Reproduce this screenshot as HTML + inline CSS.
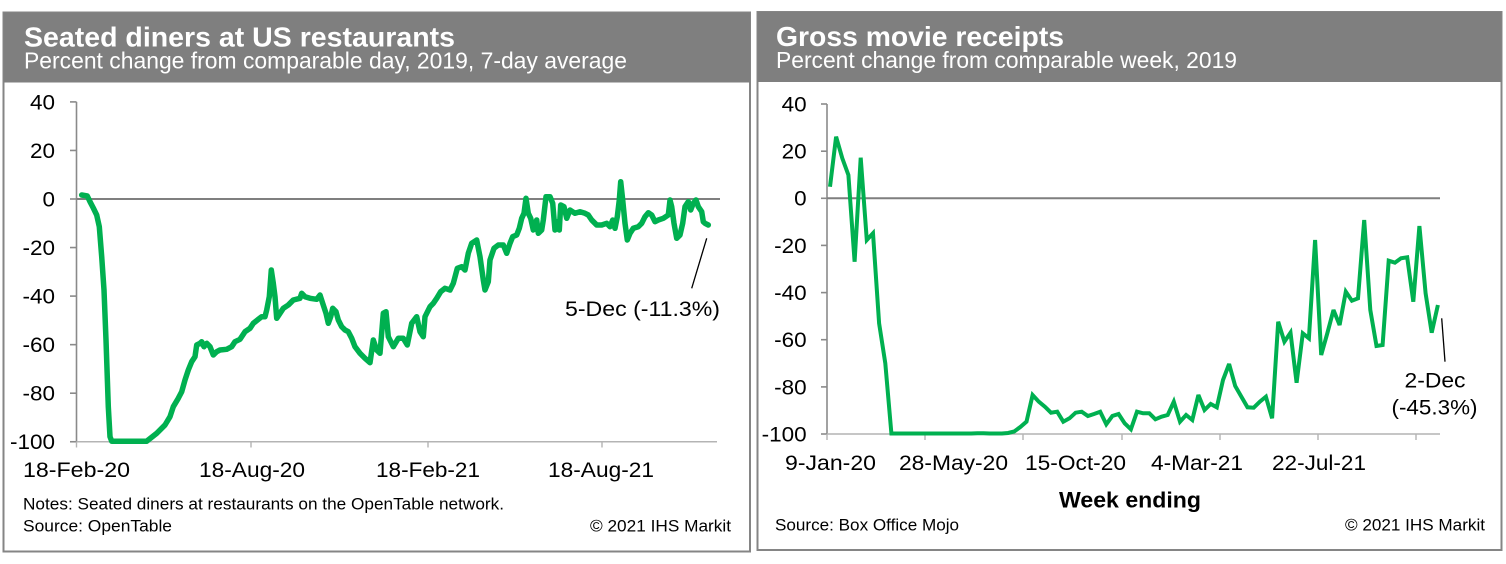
<!DOCTYPE html>
<html><head><meta charset="utf-8"><style>
html,body{margin:0;padding:0;background:#fff;}
svg{display:block;}
text{font-family:"Liberation Sans",Arial,sans-serif;}
</style></head><body>
<svg width="1506" height="564" viewBox="0 0 1506 564" xmlns="http://www.w3.org/2000/svg">
<rect x="0" y="0" width="1506" height="564" fill="#fff"/>
<!-- Left panel -->
<rect x="3.5" y="12.5" width="746.5" height="539" fill="#fff" stroke="#858585" stroke-width="2"/>
<rect x="3.5" y="12.5" width="746.5" height="70" fill="#7f7f7f"/>
<text x="24" y="46.7" font-size="27.5" font-weight="bold" fill="#fff" textLength="431" lengthAdjust="spacingAndGlyphs">Seated diners at US restaurants</text>
<text x="24" y="68.5" font-size="23" fill="#fff" textLength="603" lengthAdjust="spacingAndGlyphs">Percent change from comparable day, 2019, 7-day average</text>

<!-- Right panel -->
<rect x="757.5" y="12" width="744" height="538" fill="#fff" stroke="#858585" stroke-width="2"/>
<rect x="757.5" y="12" width="744" height="70" fill="#7f7f7f"/>
<text x="776" y="46" font-size="27.5" font-weight="bold" fill="#fff" textLength="288" lengthAdjust="spacingAndGlyphs">Gross movie receipts</text>
<text x="776" y="68" font-size="23" fill="#fff" textLength="461" lengthAdjust="spacingAndGlyphs">Percent change from comparable week, 2019</text>

<!-- Left axes -->
<g stroke="#8a8a8a" stroke-width="1.6" fill="none">
<line x1="76.5" y1="101.9" x2="76.5" y2="441.75"/>
<line x1="70" y1="101.9" x2="76.5" y2="101.9"/>
<line x1="70" y1="150.45" x2="76.5" y2="150.45"/>
<line x1="70" y1="199" x2="76.5" y2="199"/>
<line x1="70" y1="247.55" x2="76.5" y2="247.55"/>
<line x1="70" y1="296.1" x2="76.5" y2="296.1"/>
<line x1="70" y1="344.65" x2="76.5" y2="344.65"/>
<line x1="70" y1="393.2" x2="76.5" y2="393.2"/>
<line x1="70" y1="441.75" x2="76.5" y2="441.75"/>
</g>
<line x1="76.5" y1="441.75" x2="717" y2="441.75" stroke="#b4b4b4" stroke-width="1.6"/>
<g stroke="#b4b4b4" stroke-width="1.4">
<line x1="76.5" y1="441.75" x2="76.5" y2="447.5"/>
<line x1="251" y1="441.75" x2="251" y2="447.5"/>
<line x1="428" y1="441.75" x2="428" y2="447.5"/>
<line x1="602" y1="441.75" x2="602" y2="447.5"/>
</g>
<line x1="76.5" y1="199" x2="720" y2="199" stroke="#7f7f7f" stroke-width="2"/>

<g font-size="21" fill="#000" text-anchor="end">
<text x="55" y="109.3" textLength="25" lengthAdjust="spacingAndGlyphs">40</text>
<text x="55" y="157.9" textLength="25" lengthAdjust="spacingAndGlyphs">20</text>
<text x="55" y="206.4" textLength="12.5" lengthAdjust="spacingAndGlyphs">0</text>
<text x="55" y="254.9" textLength="32.5" lengthAdjust="spacingAndGlyphs">-20</text>
<text x="55" y="303.5" textLength="32.5" lengthAdjust="spacingAndGlyphs">-40</text>
<text x="55" y="352" textLength="32.5" lengthAdjust="spacingAndGlyphs">-60</text>
<text x="55" y="400.6" textLength="32.5" lengthAdjust="spacingAndGlyphs">-80</text>
<text x="55" y="449.1" textLength="45" lengthAdjust="spacingAndGlyphs">-100</text>
</g>
<g font-size="21.5" fill="#000" text-anchor="middle">
<text x="76.5" y="477" textLength="107" lengthAdjust="spacingAndGlyphs">18-Feb-20</text>
<text x="252" y="477" textLength="106" lengthAdjust="spacingAndGlyphs">18-Aug-20</text>
<text x="428" y="477" textLength="104" lengthAdjust="spacingAndGlyphs">18-Feb-21</text>
<text x="601" y="477" textLength="106" lengthAdjust="spacingAndGlyphs">18-Aug-21</text>
</g>

<polyline fill="none" stroke="#00b050" stroke-width="5.5" stroke-linejoin="round" stroke-linecap="round" points="
81.7,195 87.3,196 90,201.7 93.3,208 96.7,215 99.3,226.7 101.7,256.7 104,290 106,340 108.3,406.7 110,436.7 111.7,441.2 146.7,441.2
156.7,433.3 165,425 170,416.7 173.3,406.7 178.3,398.3 181.7,391.7 185,380 188.3,370 191.7,361.7 195,356.7 196.7,345 200,343.3 201.7,341.7
204,346.7 206.7,343.3 210,346.7 213.3,355 216.7,351.7 220,350 226.7,349.3 231.7,346.7 235,341.7 240,339.3 245,331.7 250,328.3 253.3,323.3
258.3,319.3 261.7,316.7 265,316.7 266.7,310 269.3,296.7 271.3,270 273.3,283.3 275,296.7 276.7,318.3 280,313.3 283.3,308.3 288.3,305
293.3,300 300,298.3 301.7,293.3 305,296.7 310,298.3 316.7,299.3 320,295 322.7,303.3 326,313.3 328.3,323.3 330.7,316.7 332.7,308.3
336,311.7 338.3,320 341.7,326.7 345,330 348.3,331.7 351.7,338.3 355,346.7 360,353.3 365,358.3 370,362.7 373.3,340 376.7,350 380,353.3
383.3,313.3 386,311.7 388.3,336.7 393.3,346.7 398.3,338.3 403.3,338.3 407.3,345 411.7,323.3 416.7,316.7 420,331.7 423.3,336.7 425,316.7
430,306.7 433.3,303.3 436.7,298.3 440.7,291.7 445,288.3 450,290 453.3,283.3 457.3,268.3 461.7,266.7 465,270 468.3,253.3 471.7,243.3
476.7,240 480,256.7 483.3,280 485,290 488.3,281.7 490,260 494,248.3 498.3,245 503.3,245 506.7,253.3 510,243.3 512.7,236.7 516.7,235
519.3,228.3 521.7,218.3 524,213.3 526,198.3 528.3,213.3 530.7,218.3 533.3,230 536.7,220 538.3,233.3 541.7,230 543.3,220 546,196.7
550,196.7 552.7,203.3 555,230 556.7,221.7 559.3,230 560.7,205 564,206.7 566.7,218.3 570,210 575,213.3 580,211.7 585,213.3 588.3,215
591.7,220 596.7,225 601.7,225 606.7,223.3 610,226.7 612.7,220 615,228.3 617.3,216.7 619.3,200 620.7,181.7 622.7,200 625,223.3 627.3,240
630,233.3 633.3,228.3 638.3,226.7 641.7,223.3 645,216.7 648.3,212.7 651.7,215 655,221.7 658.3,220 663.3,218.3 668.3,215 670,200
671.7,206.7 674,223.3 676.7,238.3 680,235 682.7,223.3 685,206.7 688.3,201.7 690.7,210 693.3,203.3 696,200 698.3,206.7 701.7,211.7
703.3,221.7 705,223.3 708.3,225"/>

<line x1="706.7" y1="238.3" x2="691.7" y2="288.3" stroke="#000" stroke-width="1.3"/>
<text x="565" y="316" font-size="21" fill="#000" textLength="155" lengthAdjust="spacingAndGlyphs">5-Dec (-11.3%)</text>

<text x="23" y="509.5" font-size="16.5" fill="#000" textLength="481" lengthAdjust="spacingAndGlyphs">Notes: Seated diners at restaurants on the OpenTable network.</text>
<text x="23" y="531.5" font-size="16.5" fill="#000" textLength="149" lengthAdjust="spacingAndGlyphs">Source: OpenTable</text>
<text x="590" y="531.5" font-size="16.5" fill="#000" textLength="141" lengthAdjust="spacingAndGlyphs">© 2021 IHS Markit</text>

<!-- Right axes -->
<g stroke="#8a8a8a" stroke-width="1.6" fill="none">
<line x1="827" y1="104" x2="827" y2="434"/>
<line x1="821" y1="104" x2="827" y2="104"/>
<line x1="821" y1="151.2" x2="827" y2="151.2"/>
<line x1="821" y1="198.3" x2="827" y2="198.3"/>
<line x1="821" y1="245.4" x2="827" y2="245.4"/>
<line x1="821" y1="292.6" x2="827" y2="292.6"/>
<line x1="821" y1="339.7" x2="827" y2="339.7"/>
<line x1="821" y1="386.9" x2="827" y2="386.9"/>
<line x1="821" y1="434" x2="827" y2="434"/>
</g>
<line x1="827" y1="434" x2="1440" y2="434" stroke="#b4b4b4" stroke-width="1.6"/>
<g stroke="#b4b4b4" stroke-width="1.4">
<line x1="827" y1="434" x2="827" y2="440"/>
<line x1="925" y1="434" x2="925" y2="440"/>
<line x1="1023" y1="434" x2="1023" y2="440"/>
<line x1="1122" y1="434" x2="1122" y2="440"/>
<line x1="1220" y1="434" x2="1220" y2="440"/>
<line x1="1318" y1="434" x2="1318" y2="440"/>
<line x1="1416" y1="434" x2="1416" y2="440"/>
</g>
<line x1="827" y1="198.3" x2="1440" y2="198.3" stroke="#7f7f7f" stroke-width="2"/>

<g font-size="21" fill="#000" text-anchor="end">
<text x="806.7" y="111.4" textLength="25" lengthAdjust="spacingAndGlyphs">40</text>
<text x="806.7" y="158.6" textLength="25" lengthAdjust="spacingAndGlyphs">20</text>
<text x="806.7" y="205.7" textLength="12.5" lengthAdjust="spacingAndGlyphs">0</text>
<text x="806.7" y="252.8" textLength="32.5" lengthAdjust="spacingAndGlyphs">-20</text>
<text x="806.7" y="300" textLength="32.5" lengthAdjust="spacingAndGlyphs">-40</text>
<text x="806.7" y="347.1" textLength="32.5" lengthAdjust="spacingAndGlyphs">-60</text>
<text x="806.7" y="394.3" textLength="32.5" lengthAdjust="spacingAndGlyphs">-80</text>
<text x="806.7" y="441.4" textLength="45" lengthAdjust="spacingAndGlyphs">-100</text>
</g>
<g font-size="21.5" fill="#000" text-anchor="middle">
<text x="830.5" y="470" textLength="91" lengthAdjust="spacingAndGlyphs">9-Jan-20</text>
<text x="953.5" y="470" textLength="109" lengthAdjust="spacingAndGlyphs">28-May-20</text>
<text x="1075.5" y="470" textLength="101" lengthAdjust="spacingAndGlyphs">15-Oct-20</text>
<text x="1197" y="470" textLength="92" lengthAdjust="spacingAndGlyphs">4-Mar-21</text>
<text x="1319" y="470" textLength="94" lengthAdjust="spacingAndGlyphs">22-Jul-21</text>
</g>
<text x="1130" y="507.5" font-size="22" font-weight="bold" fill="#000" text-anchor="middle" textLength="142" lengthAdjust="spacingAndGlyphs">Week ending</text>

<polyline fill="none" stroke="#00b050" stroke-width="4" stroke-linejoin="miter" stroke-miterlimit="3" points="
830,186.7 836.1,136.7 842.3,158.3 848.4,175 854.6,261.7 860.7,157.7 866.8,240 873,233.3 879.1,323.3 885.3,363.3 891.4,433.5
897.5,433.5 903.7,433.5 909.8,433.5 916,433.5 922.1,433.5 928.2,433.5 934.4,433.5 940.5,433.5 946.7,433.5 952.8,433.5
958.9,433.5 965.1,433.5 971.2,433.5 977.4,433.2 983.5,433.2 989.6,433.5 995.8,433.5 1001.9,433.5 1008.1,433 1014.2,431.5
1020.3,427 1026.5,421.7 1032.6,395 1038.8,401.7 1044.9,406.7 1051,412.7 1057.2,411.7 1063.3,421.7 1069.5,418.3 1075.6,412.7
1081.7,411.7 1087.9,416 1094,414 1100.2,411.7 1106.3,424.3 1112.4,416 1118.6,414 1124.7,423.3 1130.9,429.3 1137,411.7
1143.1,413.3 1149.3,413.3 1155.4,419.3 1161.6,416.7 1167.7,415 1173.8,401.7 1180,421.7 1186.1,415 1192.3,420 1198.4,395
1204.5,410 1210.7,404 1216.8,407.3 1223,380 1229.1,364 1235.2,386 1241.4,396.7 1247.5,407.3 1253.7,407.7 1259.8,401.7
1265.9,396.7 1272.1,418.3 1278.2,321.7 1284.4,341.7 1290.5,332.7 1296.6,382.7 1302.8,333.3 1308.9,338.3 1315.1,240 1321.2,355
1327.3,333.3 1333.5,310 1339.6,325 1345.8,291.7 1351.9,300.7 1358,298.3 1364.2,220 1370.3,310 1376.5,346 1382.6,345
1388.7,260.7 1394.9,262.7 1401,258.3 1407.2,257.3 1413.3,301.7 1419.4,226 1425.6,293.3 1431.7,332.7 1437.9,305"/>

<line x1="1441.7" y1="318.3" x2="1445" y2="361.7" stroke="#000" stroke-width="1.3"/>
<text x="1435" y="387.5" font-size="21" fill="#000" text-anchor="middle" textLength="61" lengthAdjust="spacingAndGlyphs">2-Dec</text>
<text x="1434.5" y="414.5" font-size="21" fill="#000" text-anchor="middle" textLength="86" lengthAdjust="spacingAndGlyphs">(-45.3%)</text>

<text x="775" y="530.5" font-size="16.5" fill="#000" textLength="184" lengthAdjust="spacingAndGlyphs">Source: Box Office Mojo</text>
<text x="1345" y="530.5" font-size="16.5" fill="#000" textLength="140" lengthAdjust="spacingAndGlyphs">© 2021 IHS Markit</text>
</svg>
</body></html>
